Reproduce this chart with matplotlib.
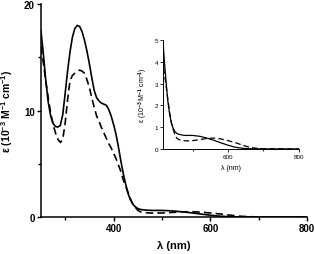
import matplotlib
matplotlib.use("Agg")
import matplotlib.pyplot as plt
from matplotlib.ticker import MultipleLocator, FixedLocator

plt.rcParams['font.family'] = ['Liberation Sans', 'DejaVu Sans']
plt.rcParams['mathtext.fontset'] = 'custom'
plt.rcParams['mathtext.rm'] = 'Liberation Sans:bold'
plt.rcParams['mathtext.default'] = 'rm'

# wavelength (nm) and epsilon (10^-3 M^-1 cm^-1)
wl_solid = [250, 255, 260, 265, 270, 275, 280, 285, 290, 295,
            300, 305, 310, 315, 320, 325, 330, 335, 340, 345,
            350, 355, 360, 365, 370, 375, 380, 385, 390, 395,
            400, 405, 410, 415, 420, 425, 430, 435, 440, 445,
            450, 455, 460, 470, 480, 500, 520, 540, 560, 580,
            600, 620, 640, 660, 700, 800]
eps_solid = [17.5, 15.3, 12.8, 10.8, 9.5, 8.8, 8.5, 8.45, 8.6, 9.6,
             11.6, 13.7, 15.5, 16.9, 17.7, 18.0, 17.9, 17.4, 16.6, 15.6,
             14.4, 13.1, 11.9, 11.2, 10.9, 10.7, 10.6, 10.5, 10.1, 9.5,
             8.7, 7.8, 6.6, 5.3, 4.1, 3.1, 2.2, 1.6, 1.2, 0.95,
             0.8, 0.72, 0.68, 0.64, 0.62, 0.62, 0.58, 0.5, 0.4, 0.28,
             0.17, 0.08, 0.03, 0.01, 0.0, 0.0]

wl_dash = [250, 255, 260, 265, 270, 275, 280, 285, 290, 295,
           300, 305, 310, 315, 320, 325, 330, 335, 340, 345,
           350, 355, 360, 365, 370, 375, 380, 385, 390, 395,
           400, 405, 410, 415, 420, 425, 430, 435, 440, 445,
           450, 455, 460, 470, 480, 500, 520, 540, 560, 580,
           600, 620, 640, 660, 680, 700, 800]
eps_dash = [16.0, 14.5, 12.8, 11.2, 9.8, 8.7, 7.9, 7.3, 7.0, 7.3,
            8.8, 11.0, 12.8, 13.3, 13.5, 13.7, 13.8, 13.7, 13.5, 12.9,
            12.2, 11.2, 10.3, 9.5, 9.0, 8.4, 7.9, 7.4, 6.9, 6.5,
            6.0, 5.5, 4.9, 4.3, 3.5, 2.9, 2.3, 1.7, 1.2, 0.9,
            0.65, 0.5, 0.44, 0.39, 0.37, 0.38, 0.43, 0.48, 0.5, 0.46,
            0.38, 0.29, 0.18, 0.08, 0.03, 0.01, 0.0]

main_xticks = [400, 600, 800]
main_yticks = [0, 10, 20]
inset_xticks = [600, 800]
inset_yticks = [0, 1, 2, 3, 4, 5]

ylab = r'ε (10$^{-3}$ M$^{-1}$ cm$^{-1}$)'

fig = plt.figure(figsize=(3.15, 2.55), dpi=100)

# main plot
ax = fig.add_axes([0.130, 0.145, 0.845, 0.835])
ax.plot(wl_solid, eps_solid, color='black', lw=1.2)
ax.plot(wl_dash, eps_dash, color='black', lw=1.2, dashes=(4.5, 2.5))
ax.set_xlim(250, 800)
ax.set_ylim(0, 20)
ax.xaxis.set_major_locator(FixedLocator(main_xticks))
ax.xaxis.set_minor_locator(MultipleLocator(100))
ax.yaxis.set_major_locator(FixedLocator(main_yticks))
ax.yaxis.set_minor_locator(MultipleLocator(5))
for s in ['top', 'right']:
    ax.spines[s].set_visible(False)
for s in ['left', 'bottom']:
    ax.spines[s].set_linewidth(1.1)
ax.tick_params(which='both', direction='out', width=1.0, labelsize=7, pad=1.5)
ax.tick_params(which='major', length=3)
ax.tick_params(which='minor', length=2.5)
for lab in ax.get_xticklabels() + ax.get_yticklabels():
    lab.set_fontweight('bold')
ax.set_xlabel('λ (nm)', fontsize=8, fontweight='bold', labelpad=5)
ax.set_ylabel(ylab, fontsize=7.5, fontweight='bold', labelpad=6)

# inset
ins = fig.add_axes([0.517, 0.412, 0.432, 0.427])
ins.plot(wl_solid, eps_solid, color='black', lw=0.9)
ins.plot(wl_dash, eps_dash, color='black', lw=0.9, dashes=(4.5, 2.5))
ins.set_xlim(416, 800)
ins.set_ylim(0, 5)
ins.xaxis.set_major_locator(FixedLocator(inset_xticks))
ins.xaxis.set_minor_locator(MultipleLocator(100))
ins.yaxis.set_major_locator(FixedLocator(inset_yticks))
for s in ['top', 'right']:
    ins.spines[s].set_visible(False)
for s in ['left', 'bottom']:
    ins.spines[s].set_linewidth(0.7)
ins.tick_params(which='both', direction='out', width=0.6, labelsize=4.5, pad=1.5)
ins.tick_params(which='major', length=2)
ins.tick_params(which='minor', length=1.5)
ins.set_xlabel('λ (nm)', fontsize=5, labelpad=4)
ins.set_ylabel(ylab, fontsize=5, labelpad=3)
ins.patch.set_alpha(0)

fig.savefig('out.png', dpi=100)
